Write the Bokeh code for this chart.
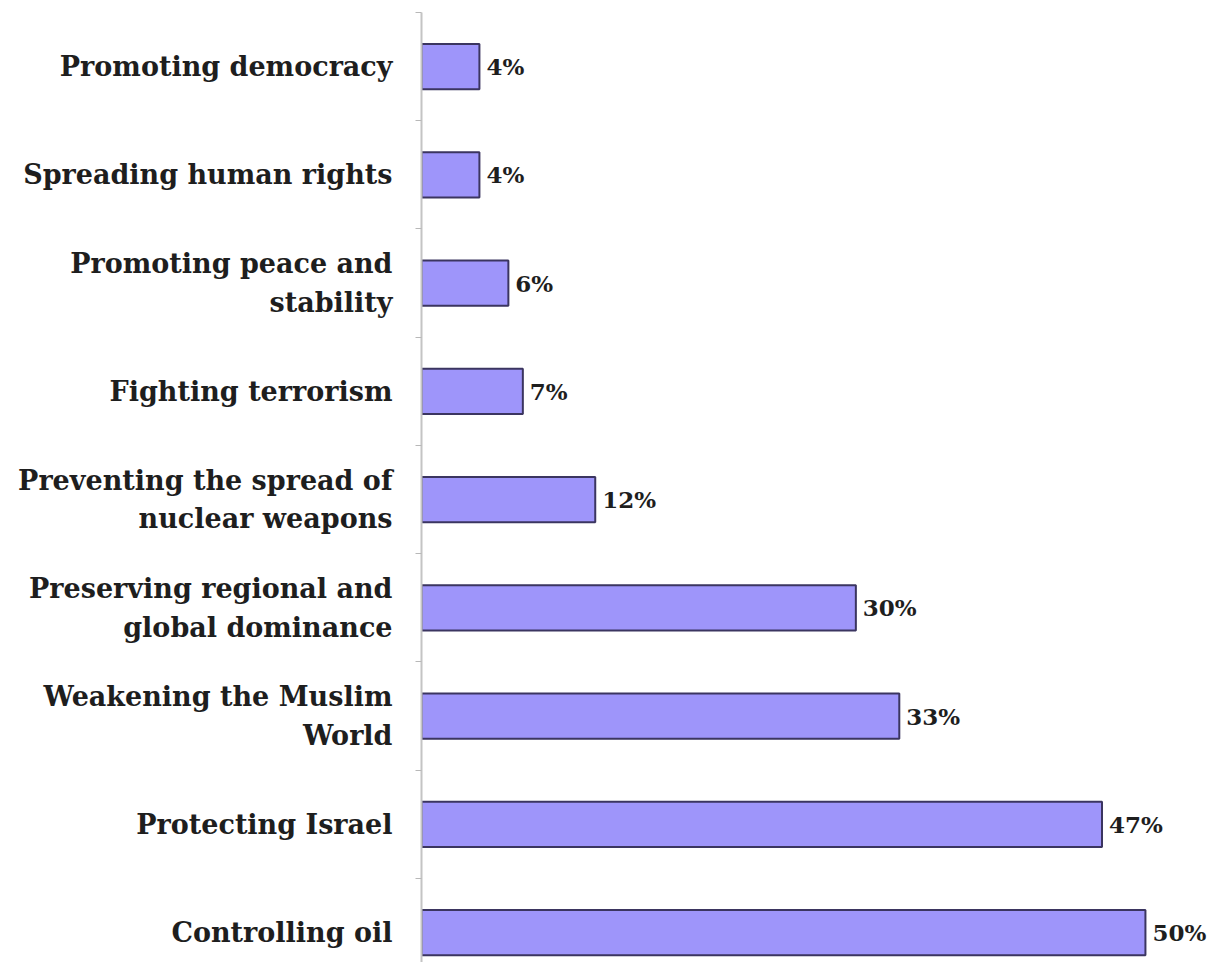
from bokeh.plotting import figure
from bokeh.models import Range1d, FixedTicker, LabelSet, ColumnDataSource
from bokeh.embed import file_html
from bokeh.resources import INLINE
from bokeh.core.properties import value

categories = [
    "Promoting democracy",
    "Spreading human rights",
    "Promoting peace and\nstability",
    "Fighting terrorism",
    "Preventing the spread of\nnuclear weapons",
    "Preserving regional and\nglobal dominance",
    "Weakening the Muslim\nWorld",
    "Protecting Israel",
    "Controlling oil",
]
values = [4, 4, 6, 7, 12, 30, 33, 47, 50]
value_labels = ["4%", "4%", "6%", "7%", "12%", "30%", "33%", "47%", "50%"]

positions = list(range(1, len(categories) + 1))

FONT = "DejaVu Serif"

p = figure(width=1214, height=962, output_backend="svg", toolbar_location=None,
           x_range=Range1d(0, 54.77), y_range=Range1d(9.276, 0.5),
           min_border_left=421, min_border_right=0, min_border_top=12, min_border_bottom=0)
p.outline_line_color = None
p.grid.visible = False
p.xaxis.visible = False

src = ColumnDataSource(dict(y=positions, v=values, lab=value_labels))
p.hbar(y="y", right="v", left=0, height=0.42, source=src,
       fill_color="#9E95FA", line_color="#3B3560", line_width=2)

labels = LabelSet(x="v", y="y", text="lab", source=src, x_offset=7,
                  text_align="left", text_baseline="middle",
                  text_font=value(FONT), text_font_style="bold",
                  text_font_size="23px", text_color="#1e1e1e")
p.add_layout(labels)

yax = p.yaxis[0]
yax.ticker = FixedTicker(ticks=positions,
                         minor_ticks=[i + 0.5 for i in range(0, len(categories) + 1)])
yax.major_label_overrides = {pos: c for pos, c in zip(positions, categories)}
yax.major_tick_out = 0
yax.major_tick_in = 0
yax.minor_tick_out = 6
yax.minor_tick_in = 0
yax.minor_tick_line_color = "#b8b8b8"
yax.axis_line_color = "#c4c4c4"
yax.axis_line_width = 2
yax.major_label_standoff = 23
yax.major_label_text_font = FONT
yax.major_label_text_font_style = "bold"
yax.major_label_text_font_size = "27px"
yax.major_label_text_color = "#1e1e1e"
yax.major_label_text_line_height = 1.25

open("out.html", "w").write(file_html(p, INLINE))
